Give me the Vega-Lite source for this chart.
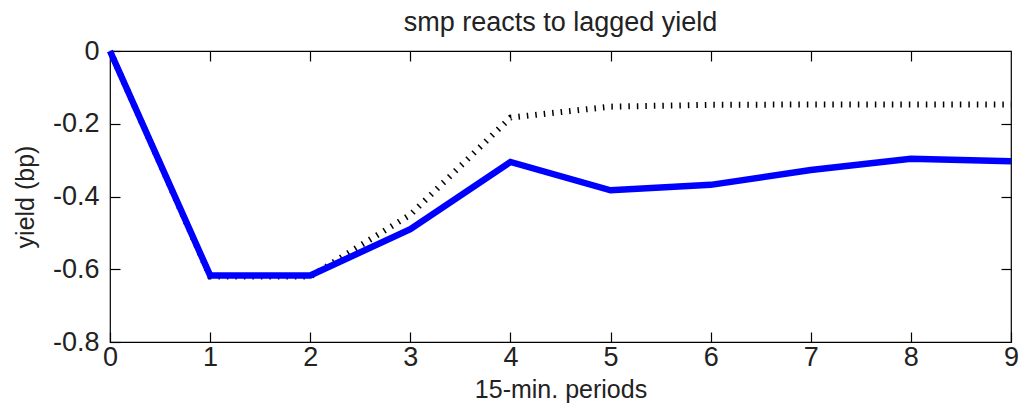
{
  "$schema": "https://vega.github.io/schema/vega-lite/v6.json",
  "autosize": {"type": "none"},
  "padding": {"left": 110, "top": 51, "right": 13, "bottom": 73},
  "width": 901,
  "height": 291,
  "background": "white",
  "config": {
    "view": {"stroke": "black", "strokeWidth": 1.2},
    "font": "Liberation Sans",
    "axis": {
      "grid": false,
      "domain": false,
      "ticks": true,
      "tickColor": "black",
      "tickWidth": 1.2,
      "tickSize": 10,
      "offset": -10,
      "labelFlush": false,
      "labelOverlap": false,
      "labelFont": "Liberation Sans",
      "titleFont": "Liberation Sans",
      "labelColor": "#222",
      "titleColor": "#222",
      "labelFontSize": 27,
      "titleFontSize": 25,
      "titleFontWeight": "normal"
    }
  },
  "title": {"text": "smp reacts to lagged yield", "fontSize": 27, "fontWeight": "normal", "font": "Liberation Sans", "color": "#222", "offset": 0},
  "data": {
    "values": [
      {"period": 0, "yield": 0, "series": "lagged"},
      {"period": 1, "yield": -0.62, "series": "lagged"},
      {"period": 2, "yield": -0.62, "series": "lagged"},
      {"period": 3, "yield": -0.45, "series": "lagged"},
      {"period": 4, "yield": -0.183, "series": "lagged"},
      {"period": 5, "yield": -0.153, "series": "lagged"},
      {"period": 6, "yield": -0.148, "series": "lagged"},
      {"period": 7, "yield": -0.147, "series": "lagged"},
      {"period": 8, "yield": -0.147, "series": "lagged"},
      {"period": 9, "yield": -0.147, "series": "lagged"},
      {"period": 0, "yield": 0, "series": "smp"},
      {"period": 1, "yield": -0.617, "series": "smp"},
      {"period": 2, "yield": -0.617, "series": "smp"},
      {"period": 3, "yield": -0.49, "series": "smp"},
      {"period": 4, "yield": -0.305, "series": "smp"},
      {"period": 5, "yield": -0.383, "series": "smp"},
      {"period": 6, "yield": -0.368, "series": "smp"},
      {"period": 7, "yield": -0.327, "series": "smp"},
      {"period": 8, "yield": -0.296, "series": "smp"},
      {"period": 9, "yield": -0.303, "series": "smp"}
    ]
  },
  "resolve": {"axis": {"x": "independent", "y": "independent"}},
  "layer": [
    {
      "transform": [{"filter": "datum.series == 'lagged'"}],
      "mark": {"type": "line", "color": "black", "strokeWidth": 6, "strokeDash": [1.5, 7], "clip": true},
      "encoding": {
        "x": {"field": "period", "type": "quantitative", "scale": {"domain": [0, 9], "nice": false},
              "axis": {"orient": "top", "values": [1,2,3,4,5,6,7,8], "labels": false, "title": null}},
        "y": {"field": "yield", "type": "quantitative", "scale": {"domain": [-0.8, 0], "nice": false, "zero": false},
              "axis": {"orient": "right", "values": [-0.6,-0.4,-0.2], "labels": false, "title": null}}
      }
    },
    {
      "transform": [{"filter": "datum.series == 'smp'"}],
      "mark": {"type": "line", "color": "#0000ff", "strokeWidth": 6.5, "strokeJoin": "miter"},
      "encoding": {
        "x": {"field": "period", "type": "quantitative", "scale": {"domain": [0, 9], "nice": false},
              "axis": {"orient": "bottom", "values": [0,1,2,3,4,5,6,7,8,9], "labelPadding": 2, "title": "15-min. periods", "titlePadding": 7}},
        "y": {"field": "yield", "type": "quantitative", "scale": {"domain": [-0.8, 0], "nice": false, "zero": false},
              "axis": {"orient": "left", "values": [-0.8,-0.6,-0.4,-0.2,0], "labelPadding": 11,
                       "labelExpr": "datum.value == 0 ? '0' : '-' + format(-datum.value, '.1f')",
                       "title": "yield (bp)", "titlePadding": 14}}
      }
    }
  ]
}
